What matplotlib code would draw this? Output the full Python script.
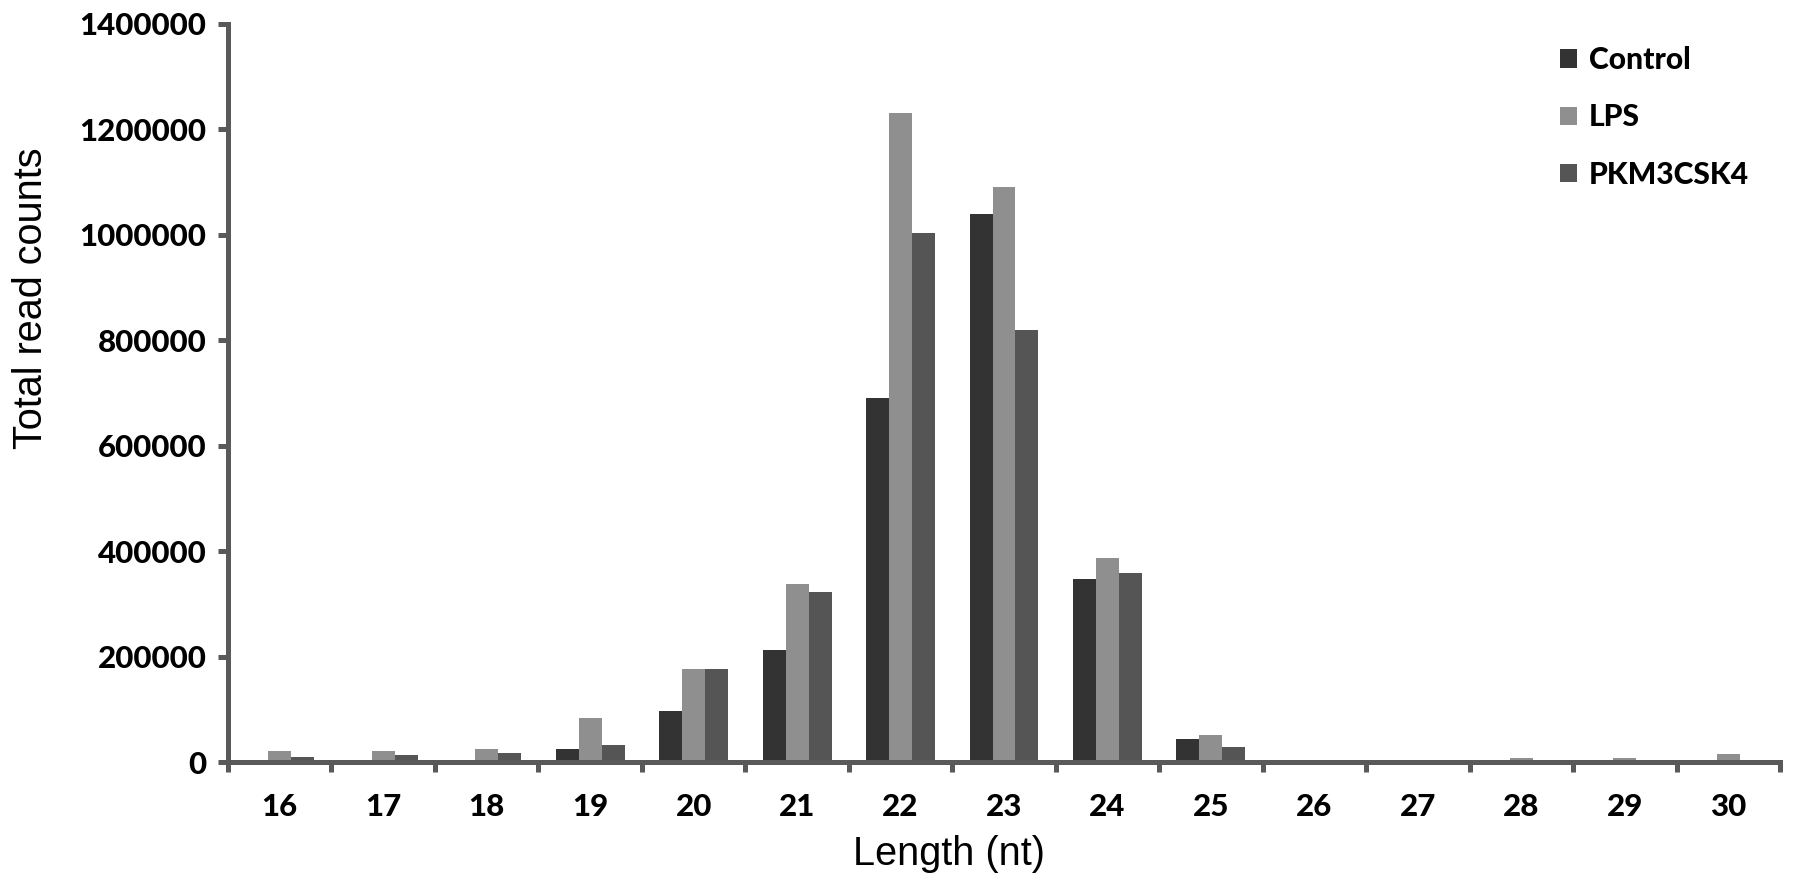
import numpy as np
import matplotlib
matplotlib.use('Agg')
import matplotlib.pyplot as plt

# read lengths (nt) and total read counts per sample
lengths = ['16', '17', '18', '19', '20', '21', '22', '23', '24', '25', '26', '27', '28', '29', '30']
control = [2000, 4000, 4000, 24000, 97000, 212000, 690000, 1040000, 348000, 43000, 0, 0, 0, 3000, 0]
lps = [20000, 20000, 24000, 83000, 176000, 337000, 1232000, 1090000, 387000, 52000, 3000, 3000, 8000, 8000, 16000]
pkm = [10000, 13000, 17000, 32000, 176000, 323000, 1004000, 819000, 359000, 29000, 0, 0, 0, 0, 0]
series = ['Control', 'LPS', 'PKM3CSK4']
colors = ['#333333', '#8f8f8f', '#555555']
yticks = [0, 200000, 400000, 600000, 800000, 1000000, 1200000, 1400000]

W, H = 1795, 894
fig = plt.figure(figsize=(W / 100, H / 100), dpi=100)
ax = fig.add_axes([228 / W, 1 - 762 / H, (1780 - 228) / W, (762 - 24) / H])

x = np.arange(len(lengths))
bw = 0.222
for k, (vals, name, c) in enumerate(zip([control, lps, pkm], series, colors)):
    ax.bar(x + (k - 1) * bw, vals, width=bw, color=c, label=name, zorder=2)

ax.set_xlim(-0.5, len(lengths) - 0.5)
ax.set_ylim(0, 1400000)

axcol = '#595959'
for s in ['top', 'right']:
    ax.spines[s].set_visible(False)
for s in ['left', 'bottom']:
    ax.spines[s].set_color(axcol)
    ax.spines[s].set_linewidth(3.6)
    ax.spines[s].set_zorder(3)

tickfont = dict(family='Lato', weight='black', size=22.5)
ax.set_yticks(yticks)
ax.set_yticklabels([str(v) for v in yticks], fontdict=tickfont)
ax.tick_params(axis='y', direction='out', length=7.5, width=3.6, color=axcol, pad=8)

ax.set_xticks(x)
ax.set_xticklabels(lengths, fontdict=tickfont)
ax.set_xticks(np.arange(-0.5, len(lengths)), minor=True)
ax.tick_params(axis='x', which='major', length=0, pad=22)
ax.tick_params(axis='x', which='minor', direction='out', length=7, width=3.6, color=axcol)

fig.text(949 / W, 1 - 854 / H, 'Length (nt)', ha='center', va='center',
         family='Liberation Sans', fontsize=28.5)
fig.text(31 / W, 1 - 298 / H, 'Total read counts', ha='center', va='center',
         rotation=90, family='Liberation Sans', fontsize=28.5)

leg = ax.legend(loc='upper left', bbox_to_anchor=(1560 / W, 1 - 46 / H),
                bbox_transform=fig.transFigure, frameon=False, borderpad=0,
                borderaxespad=0, handlelength=0.57, handleheight=0.57,
                handletextpad=0.4, labelspacing=0.98,
                prop=dict(family='Lato', weight='black', size=21.6))

fig.savefig('out.png', dpi=100)
